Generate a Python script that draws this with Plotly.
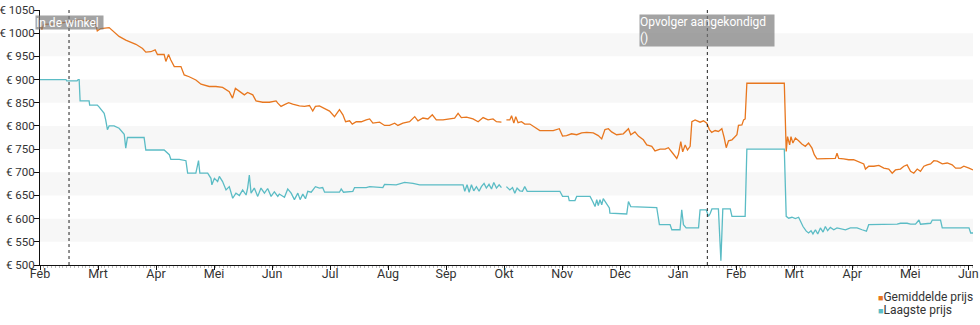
import datetime as dt
import plotly.graph_objects as go

START = dt.datetime(2023, 2, 1)

# ---- data (day offsets from 2023-02-01, euro values) ----
avg_day = [0, 1, 2, 8, 14, 20, 26, 29, 30, 31.8, 36.2, 38.8, 41.4, 44.9, 50.2, 53.7, 55.4, 58, 60.3, 61.5,
           65, 65.9, 67.3, 68.5, 70.3, 73.8, 75.5, 78.1, 81.6, 84.3, 88.6, 92.1, 95.6, 99.1, 100.8, 102.3,
           104.4, 107, 108.7, 111.4, 113.1, 116.6, 120.1, 121.9, 123.6, 124.5, 126.2, 128, 130.2, 132.3,
           135.8, 138.5, 141.1, 142.8, 144.2, 146.3, 149, 151.6, 154.2, 156.8, 158.6, 160, 162.1, 163.5,
           165.6, 168.2, 170.8, 172.6, 174.3, 177.8, 180.4, 183, 185.7, 187.4, 190, 193.5, 196.2, 197.9,
           200.5, 203.1, 205.4, 207.5, 211, 214.5, 217.1, 218.9, 220.6, 223.3, 226.7, 229.4, 232, 234.6,
           237.2, 239, 241.6, 243,
           244.2, 246, 246.9, 248.1, 249.1, 250.3, 252.1, 253.8, 256.5, 259.1, 261.7, 265.2, 268.7, 271.9,
           273.6, 275.7, 278.3, 281, 283.6, 286.2, 289.7, 292.3, 294.1, 295.8, 297.6, 299.3, 301.9, 305.4,
           308.1, 309.3, 311.5, 313.3, 315.9, 317.7, 320.3, 322, 324.7, 327.3, 329, 331.3, 333.4, 334.3,
           335.5, 336.5, 337.8, 339, 340.4, 341.3, 343, 345.6, 347.4, 349.1, 350.5, 351.7, 353.5, 355.2,
           357, 358.2, 359.3, 360.5, 362.3, 363.5, 364.9, 365.7, 367.5, 368.4, 369.2, 370.1, 389.7, 390.7,
           391.4, 392.5, 393.2, 394.2, 395.5, 397.2, 398.9, 400.7, 402.4, 404.2, 405.4, 406.8, 410.3, 413.8,
           416.4, 417.3, 418.2, 420.8, 423.4, 426, 428.7, 431.3, 432.2, 433.9, 436.6, 439.2, 441.8, 444.4,
           446.2, 447.9, 450.5, 452.3, 454, 455.8, 457.5, 459.3, 461, 462.8, 464.5, 466.3, 468, 469.8,
           472.4, 475, 477.6, 479.4, 482, 483.7, 486.4, 488.5]
avg_val = [1018, 1008, 1019, 1020, 1024, 1028, 1027, 1022, 1005, 1010, 1012, 1003, 993, 985, 976, 967, 959, 960, 964, 954,
           954, 939, 954, 942, 928, 928, 910, 906, 899, 890, 885, 885, 883, 874, 860, 881,
           875, 867, 872, 867, 854, 851, 851, 853, 854, 849, 842, 846, 850, 847,
           843, 842, 844, 832, 842, 843, 837, 832, 820, 835, 824, 809, 811, 804,
           809, 809, 813, 815, 806, 808, 801, 801, 806, 801, 806, 809, 820, 811,
           817, 815, 824, 813, 813, 815, 817, 827, 818, 819, 815, 809, 818, 813,
           815, 809, 808, None,
           813, 813, 822, 806, 820, 807, 809, 804, 804, 797, 790, 790, 790, 794,
           778, 779, 783, 781, 785, 786, 785, 779, 772, 792, 794, 787, 781, 783,
           794, 781, 787, 778, 770, 759, 756, 746, 750, 750, 753, 741, 730, 739,
           766, 744, 759, 748, 756, 809, 813, 808, 811, 806, 792, 786, 790, 788,
           794, 775, 753, 768, 770, 775, 781, 801, 802, 813, 815, 892, 892, 745,
           777, 759, 777, 763, 774, 768, 761, 756, 763, 752, 738, 729, 729, 730,
           730, 741, 730, 729, 727, 727, 722, 718, 707, 713, 713, 715, 709, 707,
           698, 705, 707, 713, 716, 702, 698, 707, 702, 713, 716, 718, 725, 724,
           718, 720, 716, 709, 709, 713, 709, 705]

low_day = [0, 13.6, 14, 19.4, 20, 20.5, 21, 25.7, 26, 30, 30.9, 33.6, 34.4, 35.3, 36.2, 38.8, 41.4, 44.1, 44.9, 45.8,
           54.5, 55.4, 65, 67.7, 68.5, 72.9, 76.4, 77.3, 81.6, 83, 83.7, 87.8, 89.5, 90, 91.3, 93, 93.9, 95.6,
           97.4, 99.1, 100.9, 102.6, 104.4, 106.1, 107.9, 108.7, 109.6, 110.5, 112.2, 114, 115.7, 117.5, 119.2,
           121, 122.7, 124.5, 125.3, 128, 129.7, 131.5, 133.2, 135, 136.2, 137.6, 139, 140.2, 142, 142.8, 144.2,
           146.3, 148, 149, 156.8, 157.7, 158.9, 163.8, 164.7, 170.8, 172.6, 179.5, 180.4, 186.5, 190, 190.9,
           195.3, 198.8, 221.5, 222.4, 223.6, 224.7, 225.9, 227.1, 228.5, 229.9, 231.1, 232.5, 233.7, 235.1,
           236.4, 237.6, 239, 240.4, 241.6, 243,
           244.2, 246, 247.4, 248.6, 249.8, 251.2, 252.6, 253.8, 255.1, 256.5, 272.2, 273.6, 276.6, 277.1,
           280.1, 281, 288, 289.4, 290.6, 291.5, 292.3, 293.2, 294.1, 294.9, 296.3, 298.1, 298.4, 307.2, 308.1,
           309.3, 322.9, 324.3, 329.9, 330.8, 335.1, 336, 336.9, 338.3, 344.8, 345.6, 348.8, 350, 350.9, 351.8,
           355.2, 356.5, 357.5, 361.4, 362.3, 369.2, 370.1, 389.7, 390.7, 392, 393.7, 395.5, 397.2, 398.1,
           399.5, 401.2, 402.4, 403.7, 404.7, 406, 407.2, 408.6, 410, 411.2, 412.4, 413.8, 415.6, 417.3, 419.1,
           421.7, 424.3, 427.8, 430.4, 432.7, 433.9, 448.8, 450.5, 454, 455.8, 458.4, 460.2, 461, 466.3, 467.2,
           471.5, 472.4, 486.4, 487.3, 488.5]
low_val = [900, 900, 897, 897, 900, 900, 854, 854, 845, 845, 841, 827, 813, 792, 800, 800, 795, 782, 752, 775,
           775, 748, 748, 738, 728, 728, 725, 698, 698, 725, 698, 698, 687, 673, 687, 680, 691, 680,
           662, 669, 644, 655, 650, 662, 651, 666, 694, 655, 666, 648, 666, 655, 665,
           648, 658, 648, 653, 646, 664, 655, 641, 655, 641, 653, 643, 659, 657, 662, 669,
           666, 667, 657, 657, 664, 657, 659, 667, 667, 669, 667, 674, 673, 676, 678,
           676, 673, 673, 659, 673, 657, 673, 660, 669, 659, 669, 676, 666, 674,
           664, 678, 666, 673, 667, None,
           669, 662, 667, 655, 666, 660, 659, 669, 659, 659, 659, 648, 648, 639,
           639, 648, 648, 637, 626, 641, 628, 641, 630, 643, 634, 623, 612, 610, 637,
           626, 624, 587, 587, 576, 576, 619, 587, 580, 580, 619, 619, 605, 611, 621,
           621, 509, 621, 621, 605, 605, 750, 750, 605, 601, 603, 600, 603, 595,
           583, 573, 569, 574, 567, 576, 567, 580, 571, 583, 574, 581, 576, 580, 578,
           576, 580, 580, 576, 573, 587, 588, 590, 590, 588, 588, 597, 588, 590, 597,
           597, 580, 580, 569, 569]

month_labels = ["Feb", "Mrt", "Apr", "Mei", "Jun", "Jul", "Aug", "Sep", "Okt", "Nov", "Dec",
                "Jan", "Feb", "Mrt", "Apr", "Mei", "Jun"]
series_names = ["Gemiddelde prijs", "Laagste prijs"]
event_days = [15.2, 349.4]
event_texts = ["In de winkel", "Opvolger aangekondigd<br>()"]
band_ranges = [(550, 600), (650, 700), (750, 800), (850, 900), (950, 1000)]

ORANGE = "#e8771f"
TEAL = "#5bbcc5"


def to_date(d):
    return START + dt.timedelta(days=d)


avg_x = [to_date(d) for d in avg_day]
low_x = [to_date(d) for d in low_day]
month_len = 30.375  # axis ticks are evenly spaced
tickvals = [to_date(i * month_len) for i in range(len(month_labels))]

fig = go.Figure()
fig.add_trace(go.Scatter(x=avg_x, y=avg_val, mode="lines", name=series_names[0],
                         line=dict(color=ORANGE, width=1.3), connectgaps=False, showlegend=False))
fig.add_trace(go.Scatter(x=low_x, y=low_val, mode="lines", name=series_names[1],
                         line=dict(color=TEAL, width=1.3), connectgaps=False, showlegend=False))

shapes = []
for lo, hi in band_ranges:
    shapes.append(dict(type="rect", xref="paper", yref="y", x0=0, x1=1, y0=lo, y1=hi,
                       fillcolor="#f7f7f7", line=dict(width=0), layer="below"))
for d in event_days:
    shapes.append(dict(type="line", xref="x", yref="paper", x0=to_date(d), x1=to_date(d), y0=0, y1=1,
                       line=dict(color="#222", width=1, dash="dot"), layer="above"))

annotations = []
box_sizes = [(67, 13), (134, 31)]
box_tops = [0.980, 0.984]
for d, t, (w, h), yt in zip(event_days, event_texts, box_sizes, box_tops):
    annotations.append(dict(x=to_date(d), xref="x", y=yt, yref="paper", xanchor="center", yanchor="top",
                            text=t, showarrow=False, align="left", width=w, height=h, valign="top",
                            bgcolor="rgba(120,120,120,0.68)", borderpad=0,
                            font=dict(family="Roboto", size=12, color="white")))

legend_y = [-0.125, -0.177]
for name, col, ly in zip(series_names, [ORANGE, TEAL], legend_y):
    annotations.append(dict(x=0.8962, xref="paper", y=ly, yref="paper", xanchor="left", yanchor="middle",
                            showarrow=False,
                            text=f'<span style="color:{col};font-size:9px">■</span>{name}',
                            font=dict(family="Roboto", size=12, color="#333")))

fig.update_layout(
    width=980, height=325,
    margin=dict(l=40, r=7, t=10, b=60, autoexpand=False),
    paper_bgcolor="white", plot_bgcolor="white",
    font=dict(family="Roboto", size=12, color="#333"),
    shapes=shapes, annotations=annotations,
    showlegend=False,
)
fig.update_xaxes(
    type="date", range=[to_date(0), to_date(488.5)], automargin=False,
    tickmode="array", tickvals=tickvals, ticktext=month_labels,
    showgrid=False, zeroline=False, showline=True, linecolor="#111", linewidth=1,
    ticks="outside", ticklen=4, tickcolor="#111", ticklabelstandoff=-7,
    minor=dict(ticks="outside", ticklen=2, dtick=2 * 86400000, tickcolor="#bbb", showgrid=False),
    tickfont=dict(family="Roboto", size=12.5, color="#333"),
)
fig.update_yaxes(
    range=[500, 1050], tickmode="linear", tick0=500, dtick=50, tickprefix="€ ", automargin=False,
    showgrid=False, zeroline=False, showline=True, linecolor="#111", linewidth=1,
    ticks="outside", ticklen=5, tickcolor="#111", ticklabelstandoff=-3,
    tickfont=dict(family="Roboto", size=11.5, color="#333"),
)

fig.write_html("out.html")
